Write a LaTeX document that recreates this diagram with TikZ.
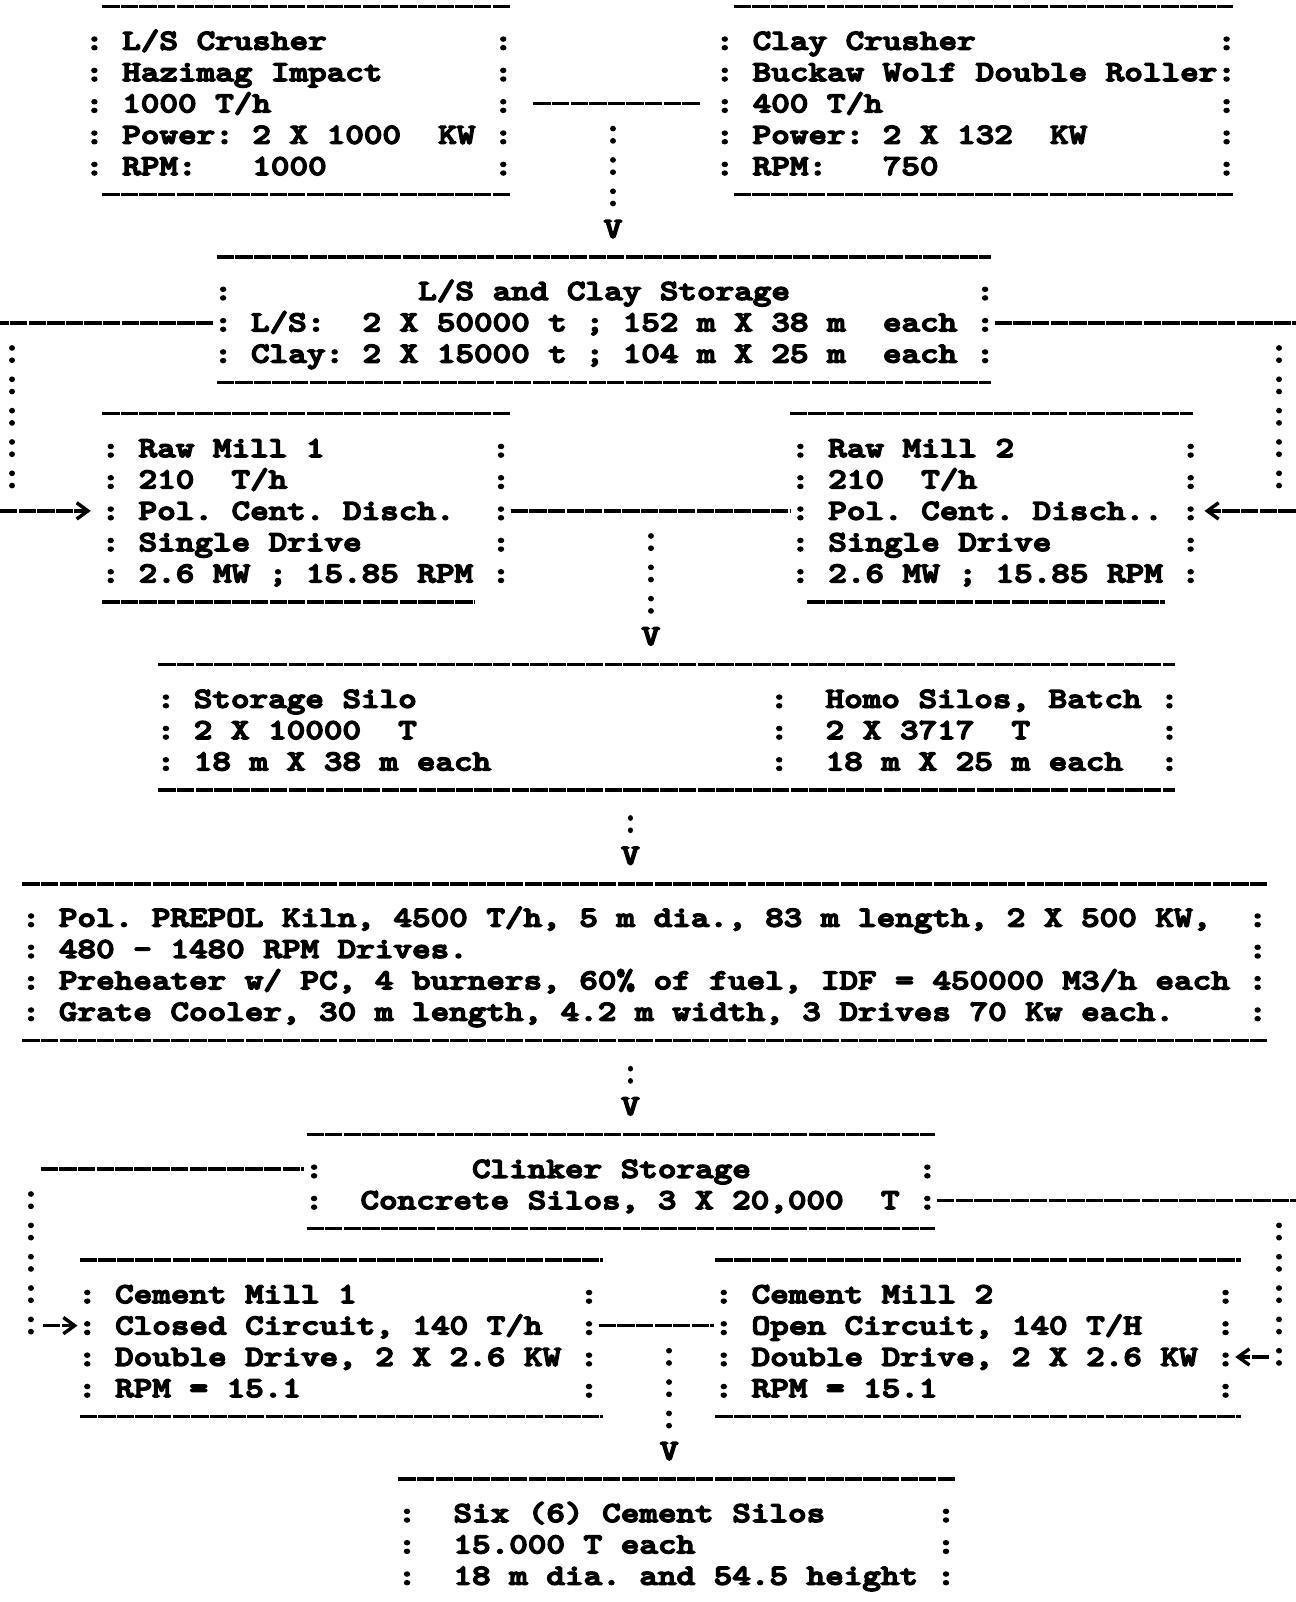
\documentclass[tikz,border=0pt]{standalone}
\usepackage{fontspec}
\usepackage{tikz}
\usetikzlibrary{arrows.meta}
\newfontfamily\twfont{lmmonolt10-bold.otf}[FakeStretch=1.22, FakeBold=5]
\newcommand\tyfont{\fontsize{14.2pt}{15.335pt}\twfont\frenchspacing}
\newcommand\tstr{\rule[-0.19em]{0pt}{0.99em}}
\tikzset{
  bx/.style={font=\tyfont, align=left, inner sep=0pt, anchor=west},
  vv/.style={font=\tyfont, inner sep=0pt, text height=8.68pt, text depth=0pt},
  rl/.style={line width=1.7pt, dash pattern=on 8.5pt off 0.6pt},
  cn/.style={line width=2.8pt, line cap=round, dash pattern=on 0.01pt off 5.99pt on 0.01pt off 9.325pt},
  ar/.style={rl, -{Straight Barb[length=5.5pt,width=8pt]}}
}
\begin{document}
\begin{tikzpicture}[x=0.5pt, y=-15.335pt]
  \path[fill=white, use as bounding box] (0,-1.304) rectangle (1268,49.82);

  % crushers and storage
  \node[bx] (lsc) at (82.9,2) {\tstr: L/S Crusher~~~~~~~~~:\\
    \tstr: Hazimag Impact~~~~~~:\\
    \tstr: 1000 T/h~~~~~~~~~~~~:\\
    \tstr: Power: 2 X 1000~~KW :\\
    \tstr: RPM:~~~1000~~~~~~~~~:};
  \node[bx] (clc) at (699.9,2) {\tstr: Clay Crusher~~~~~~~~~~~~~:\\
    \tstr: Buckaw Wolf Double Roller:\\
    \tstr: 400 T/h~~~~~~~~~~~~~~~~~~:\\
    \tstr: Power: 2 X 132~~KW~~~~~~~:\\
    \tstr: RPM:~~~750~~~~~~~~~~~~~~~:};
  \node[bx] (lss) at (208.9,9) {\tstr:~~~~~~~~~~L/S and Clay Storage~~~~~~~~~~:\\
    \tstr: L/S:~~2 X 50000 t ; 152 m X 38 m~~each :\\
    \tstr: Clay: 2 X 15000 t ; 104 m X 25 m~~each :};

  % raw mills and silos
  \node[bx] (rm1) at (98.9,15) {\tstr: Raw Mill 1~~~~~~~~~:\\
    \tstr: 210~~T/h~~~~~~~~~~~:\\
    \tstr: Pol. Cent. Disch.~~:\\
    \tstr: Single Drive~~~~~~~:\\
    \tstr: 2.6 MW ; 15.85 RPM :};
  \node[bx] (rm2) at (773.9,15) {\tstr: Raw Mill 2~~~~~~~~~:\\
    \tstr: 210~~T/h~~~~~~~~~~~:\\
    \tstr: Pol. Cent. Disch.. :\\
    \tstr: Single Drive~~~~~~~:\\
    \tstr: 2.6 MW ; 15.85 RPM :};
  \node[bx] (sil) at (152.9,22) {\tstr: Storage Silo~~~~~~~~~~~~~~~~~~~:~~Homo Silos, Batch :\\
    \tstr: 2 X 10000~~T~~~~~~~~~~~~~~~~~~~:~~2 X 3717~~T~~~~~~~:\\
    \tstr: 18 m X 38 m each~~~~~~~~~~~~~~~:~~18 m X 25 m each~~:};

  % kiln
  \node[bx] (kil) at (20.9,29.5) {\tstr: Pol. PREPOL Kiln, 4500 T/h, 5 m dia., 83 m length, 2 X 500 KW,~~:\\
    \tstr: 480 - 1480 RPM Drives.~~~~~~~~~~~~~~~~~~~~~~~~~~~~~~~~~~~~~~~~~~:\\
    \tstr: Preheater w/ PC, 4 burners, 60\% of fuel, IDF = 450000 M3/h each :\\
    \tstr: Grate Cooler, 30 m length, 4.2 m width, 3 Drives 70 Kw each.~~~~:};

  % clinker, cement mills, cement silos
  \node[bx] (clk) at (297.9,36.5) {\tstr:~~~~~~~~Clinker Storage~~~~~~~~~:\\
    \tstr:~~Concrete Silos, 3 X 20,000~~T :};
  \node[bx] (cm1) at (75.9,41.5) {\tstr: Cement Mill 1~~~~~~~~~~~~:\\
    \tstr: Closed Circuit, 140 T/h~~:\\
    \tstr: Double Drive, 2 X 2.6 KW :\\
    \tstr: RPM = 15.1~~~~~~~~~~~~~~~:};
  \node[bx] (cm2) at (698.9,41.5) {\tstr: Cement Mill 2~~~~~~~~~~~~:\\
    \tstr: Open Circuit, 140 T/H~~~~:\\
    \tstr: Double Drive, 2 X 2.6 KW :\\
    \tstr: RPM = 15.1~~~~~~~~~~~~~~~:};
  \node[bx] (six) at (388.9,48) {\tstr:~~Six (6) Cement Silos~~~~~~:\\
    \tstr:~~15.000 T each~~~~~~~~~~~~~:\\
    \tstr:~~18 m dia. and 54.5 height :};

  % top and bottom rules
  \foreach \xa/\xb/\r in {100/500/-1.1, 100/500/4.9, 718/1207/-1.1, 718/1207/4.9,
      212/970/6.9, 212/970/10.9, 100/500/11.9, 100/465/17.9, 773/1168/11.9, 790/1140/17.9,
      155/1150/19.9, 155/1150/23.9, 22/1240/26.9, 22/1240/31.9, 300/915/34.9, 300/915/37.9,
      78/590/38.9, 78/590/43.9, 700/1215/38.9, 700/1215/43.9, 390/935/45.9}
    \draw[rl] (\xa,\r) -- (\xb,\r);

  % down arrows
  \node[vv] (v1) at (600,6) {V};
  \node[vv] (v2) at (637,19) {V};
  \node[vv] (v3) at (617,26) {V};
  \node[vv] (v4) at (617,34) {V};
  \node[vv] (v5) at (655,45) {V};
  \coordinate (t1) at (600,2.8);
  \coordinate (t2) at (637,15.8);
  \coordinate (t3) at (617,24.8);
  \coordinate (t4) at (617,32.8);
  \coordinate (t5) at (655,41.8);
  \foreach \i in {1,...,5}
    \draw[cn] (t\i) -- ([yshift=5.6pt]v\i.north);

  % links between boxes
  \draw[rl] ([xshift=10pt]lsc.east) -- ([xshift=-7.5pt]clc.west);
  \draw[rl] (rm1.east) -- (rm2.west);
  \draw[rl] ([yshift=7.67pt]cm1.east) -- ([yshift=7.67pt]cm2.west);

  % feeds to raw mills
  \coordinate (fl1) at (0,9);
  \coordinate (fl2) at (12,9.8);
  \coordinate (fl3) at (12,14.35);
  \coordinate (fl4) at (0,15);
  \coordinate (fr1) at (1268,9);
  \coordinate (fr2) at (1252,9.8);
  \coordinate (fr3) at (1252,14.35);
  \coordinate (fr4) at (1268,15);
  \draw[rl] (lss.west) -- (fl1);
  \draw[cn] (fl2) -- (fl3);
  \draw[ar] (fl4) -- ([xshift=-5pt]rm1.west);
  \draw[rl] (lss.east) -- (fr1);
  \draw[cn] (fr2) -- (fr3);
  \draw[ar] (fr4) -- ([xshift=2pt]rm2.east);

  % feeds to cement mills
  \coordinate (gl1) at (40,36);
  \coordinate (gl2) at (30,36.8);
  \coordinate (gl3) at (30,41.35);
  \coordinate (gl4) at (42,41);
  \coordinate (gr1) at (1268,37);
  \coordinate (gr2) at (1252,37.8);
  \coordinate (gr3) at (1252,42.35);
  \coordinate (gr4) at (1242,42);
  \draw[rl] (gl1) -- (gl1 -| clk.west);
  \draw[cn] (gl2) -- (gl3);
  \draw[ar] (gl4) -- (gl4 -| cm1.west);
  \draw[rl] (gr1 -| clk.east) -- (gr1);
  \draw[cn] (gr2) -- (gr3);
  \draw[ar] (gr4) -- (gr4 -| cm2.east);
\end{tikzpicture}
\end{document}
